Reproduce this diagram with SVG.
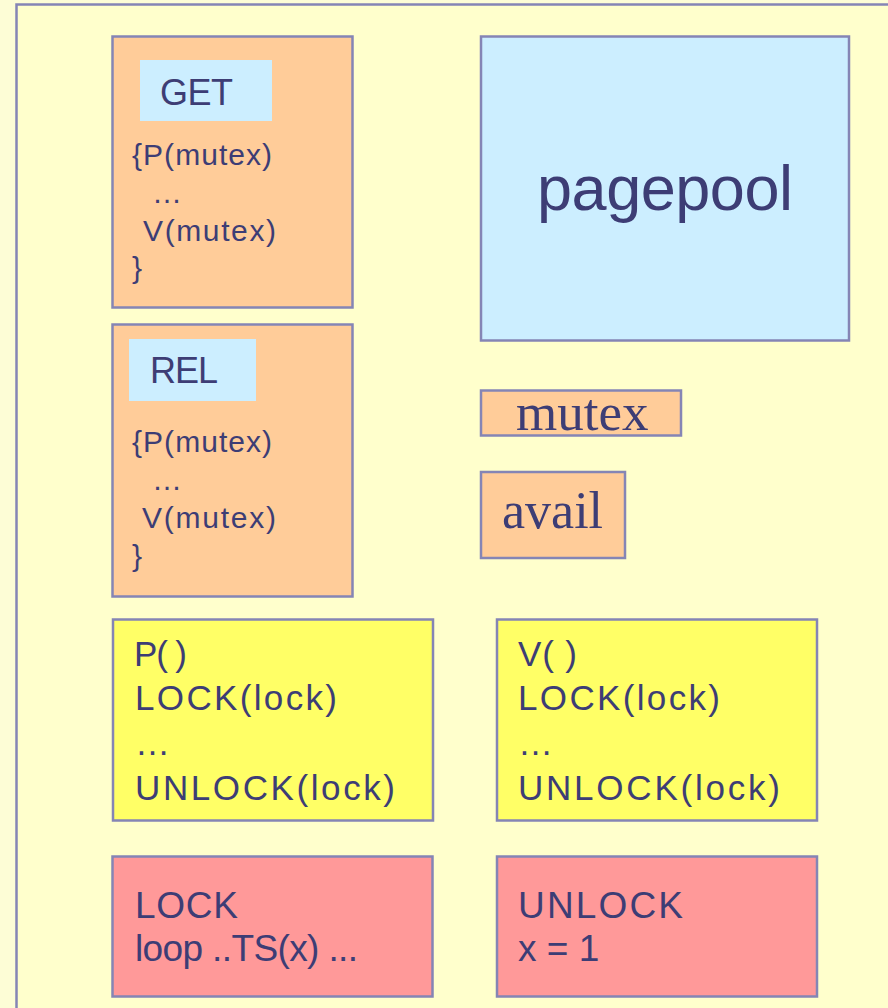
<svg xmlns="http://www.w3.org/2000/svg" width="888" height="1008" viewBox="0 0 888 1008">
<style>
.box{stroke:#8585b5;stroke-width:2.5}
.or{fill:#ffcc99}
.bl{fill:#cceeff}
.ye{fill:#ffff66}
.rd{fill:#ff9999}
.lab{fill:#cceeff;stroke:none}
text{font-family:"Liberation Sans",Arial,sans-serif;fill:#3d3d75}
.code{font-size:30px}
.big{font-size:35px}
.hd{font-size:36px}
.rt{font-size:37px}
.serif{font-family:"Liberation Serif","Times New Roman",serif}
</style>
<rect x="0" y="0" width="888" height="1008" fill="#fdfdd6"/>
<rect id="frame" x="16.5" y="4.5" width="900" height="1030" fill="#ffffcc" stroke="#8585b5" stroke-width="2.5"/>

<g id="get">
<rect class="box or" x="112.5" y="36.5" width="240" height="271"/>
<rect class="lab" x="140" y="60" width="132" height="61"/>
<text class="hd" x="160" y="105" textLength="73">GET</text>
<text class="code" x="132" y="165" textLength="140">{P(mutex)</text>
<text class="code" x="152" y="203" textLength="26">…</text>
<text class="code" x="143" y="241" textLength="133">V(mutex)</text>
<text class="code" x="132" y="278">}</text>
</g>

<g id="rel">
<rect class="box or" x="112.5" y="324.5" width="240" height="272"/>
<rect class="lab" x="129" y="339" width="127" height="62"/>
<text class="hd" x="150" y="383" textLength="68">REL</text>
<text class="code" x="132" y="452" textLength="140">{P(mutex)</text>
<text class="code" x="152" y="490" textLength="26">…</text>
<text class="code" x="142" y="528" textLength="134">V(mutex)</text>
<text class="code" x="132" y="566">}</text>
</g>

<g id="pagepool">
<rect class="box bl" x="481" y="36.5" width="368" height="304"/>
<text x="537" y="210" font-size="63" textLength="256">pagepool</text>
</g>

<g id="mutex">
<rect class="box or" x="481" y="390.5" width="200" height="45"/>
<text class="serif" x="516" y="430" font-size="53">mutex</text>
</g>

<g id="avail">
<rect class="box or" x="481" y="472" width="144" height="86"/>
<text class="serif" x="502" y="528" font-size="52">avail</text>
</g>

<g id="p">
<rect class="box ye" x="113" y="619.5" width="320" height="201"/>
<text class="big" x="134" y="666" textLength="53">P( )</text>
<text class="big" x="135" y="710" textLength="202">LOCK(lock)</text>
<text class="big" x="135" y="755" textLength="30">…</text>
<text class="big" x="135" y="800" textLength="260">UNLOCK(lock)</text>
</g>

<g id="v">
<rect class="box ye" x="497" y="619.5" width="320" height="201"/>
<text class="big" x="518" y="666" textLength="59">V( )</text>
<text class="big" x="518" y="710" textLength="202">LOCK(lock)</text>
<text class="big" x="518" y="755" textLength="30">…</text>
<text class="big" x="518" y="800" textLength="262">UNLOCK(lock)</text>
</g>

<g id="lock">
<rect class="box rd" x="112.5" y="856.5" width="320" height="140"/>
<text class="rt" x="135" y="918" textLength="103">LOCK</text>
<text class="rt" x="135" y="961" textLength="223">loop ..TS(x) ...</text>
</g>

<g id="unlock">
<rect class="box rd" x="497" y="856.5" width="320" height="140"/>
<text class="rt" x="518" y="918" textLength="165">UNLOCK</text>
<text class="rt" x="518" y="961" font-size="35">x = 1</text>
</g>

<g id="connectors"></g>
</svg>
